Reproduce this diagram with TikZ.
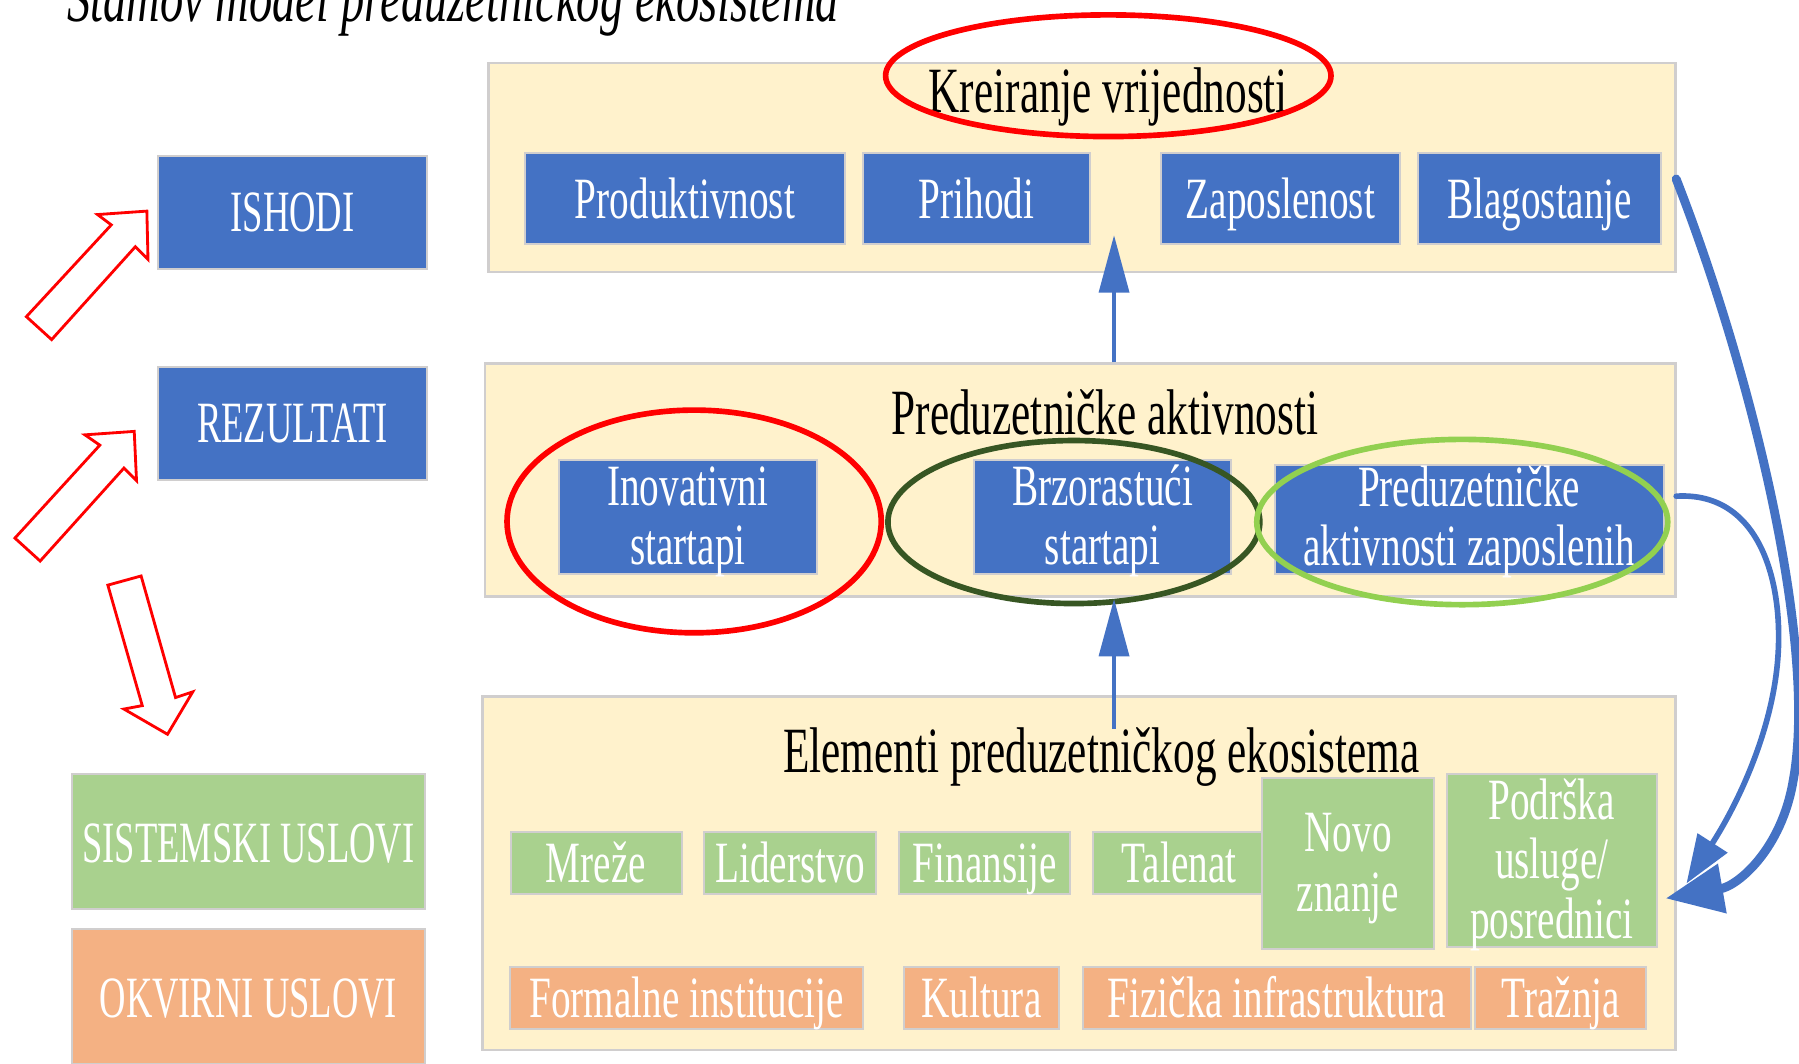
\documentclass[tikz,border=0pt]{standalone}
\usepackage{fontspec}
\setmainfont[FakeStretch=0.67]{Liberation Serif}
\newfontfamily\capsfont[FakeStretch=0.625]{Liberation Serif}
\usetikzlibrary{positioning,arrows.meta}
\definecolor{boxblue}{HTML}{4472C4}
\definecolor{boxgreen}{HTML}{A9D18E}
\definecolor{boxorange}{HTML}{F4B183}
\definecolor{panelyellow}{HTML}{FFF2CC}
\definecolor{edgegray}{HTML}{D0CECE}
\definecolor{ringdark}{HTML}{375623}
\definecolor{ringlight}{HTML}{92D050}
% multi-line label, moved down a little inside its box
\newcommand\lowtext[2]{\raisebox{-#1}[0pt][0pt]{%
  \renewcommand\arraystretch{0.983}%
  \begin{tabular}{@{}c@{}}#2\end{tabular}}}

\begin{document}
\begin{tikzpicture}
    [x=0.01cm, y=-0.01cm, node distance=0.18cm,
      every node/.style={align=center, inner sep=0pt,
      font=\fontsize{14.5}{15}\selectfont},
      panel/.style={rectangle, fill=panelyellow, draw=edgegray, line width=0.6pt},
      ptitle/.style={anchor=base, font=\fontsize{16}{17}\selectfont},
      bx/.style={rectangle, draw=edgegray, line width=0.5pt, text=white},
      oneline/.style={text height=0.44cm, text depth=0.1cm},
      bluebox/.style={bx, fill=boxblue},
      greenbox/.style={bx, fill=boxgreen},
      orangebox/.style={bx, fill=boxorange},
      capsbox/.style={font=\capsfont\fontsize{14.5}{15}\selectfont},
      ring/.style={line width=1.4pt},
      hollow/.style={draw=red, line width=0.7pt, fill=white, line join=miter},
      uparrow/.style={draw=boxblue, line width=1pt,
        -{Triangle[length=0.5cm, width=0.26cm]}},
      backarrow/.style={draw=boxblue, line cap=round}]

    \useasboundingbox (0,0) rectangle (1568,927);

    \node (title) [anchor=base west, font=\itshape\fontsize{17.2}{18}\selectfont]
      at (58,19) {Stamov model preduzetničkog ekosistema};

    % left side
    \node (ishodi) [bluebox, capsbox, oneline, minimum width=2.34cm, minimum height=0.98cm]
      at (255,185) {ISHODI};
    \node (rezultati) [bluebox, capsbox, oneline, minimum width=2.34cm, minimum height=0.98cm]
      at (255,369) {REZULTATI};
    \node (sistemski) [greenbox, capsbox, minimum width=3.07cm, minimum height=1.17cm,
      text height=0.47cm, text depth=0.1cm] at (216.5,733.5) {SISTEMSKI USLOVI};
    \node (okvirni) [orangebox, capsbox, minimum width=3.07cm, minimum height=1.17cm,
      text height=0.47cm, text depth=0.1cm] at (216.5,868.5) {OKVIRNI USLOVI};

    \draw[hollow] (23,276) -- (97,196) -- (85,187) -- (128,184) -- (129,226)
      -- (118,215) -- (45,296) -- cycle;
    \draw[hollow] (13,469) -- (87,388) -- (74,379) -- (117,376) -- (119,419)
      -- (108,408) -- (35,489) -- cycle;
    \draw[hollow] (94,510) -- (123,502) -- (153,608) -- (168,603) -- (146,640)
      -- (108,618) -- (124,615) -- cycle;

    % panels
    \node (toppanel) [panel, minimum width=10.34cm, minimum height=1.82cm] at (943,146) {};
    \node (midpanel) [panel, minimum width=10.37cm, minimum height=2.03cm] at (941.5,418.5) {};
    \node (botpanel) [panel, minimum width=10.39cm, minimum height=3.08cm] at (940.5,761) {};

    % value creation
    \node (kreiranje) [ptitle] at (966,98) {Kreiranje vrijednosti};
    \node (produkt) [bluebox, oneline, minimum width=2.78cm, minimum height=0.8cm] at (597,173) {Produktivnost};
    \node (prihodi) [bluebox, oneline, minimum width=1.98cm, minimum height=0.8cm] at (851,173) {Prihodi};
    \node (zaposl) [bluebox, oneline, minimum width=2.08cm, minimum height=0.8cm] at (1116,173) {Zaposlenost};
    \node (blago) [bluebox, oneline, minimum width=2.12cm, minimum height=0.8cm] at (1342,173) {Blagostanje};

    % activities
    \node (aktivnosti) [ptitle] at (963,379) {Preduzetničke aktivnosti};
    \node (inov) [bluebox, minimum width=2.25cm, minimum height=0.99cm] at (599.5,450.5)
      {\lowtext{0.18cm}{Inovativni\\startapi}};
    \node (brzo) [bluebox, minimum width=2.24cm, minimum height=0.99cm] at (961,450.5)
      {\lowtext{0.18cm}{Brzorastući\\startapi}};
    \node (zapo) [bluebox, minimum width=3.39cm, minimum height=0.95cm] at (1280.5,452.5)
      {\lowtext{0.17cm}{Preduzetničke\\aktivnosti zaposlenih}};

    % elements
    \node (elementi) [ptitle] at (960,673) {Elementi preduzetničkog ekosistema};
    \node (mreze) [greenbox, oneline, minimum width=1.49cm, minimum height=0.54cm] at (519.5,752) {Mreže};
    \node (lider) [greenbox, oneline, minimum width=1.5cm, minimum height=0.54cm, right=of mreze] {Liderstvo};
    \node (finan) [greenbox, oneline, minimum width=1.49cm, minimum height=0.54cm, right=of lider] {Finansije};
    \node (talenat) [greenbox, oneline, minimum width=1.5cm, minimum height=0.54cm, right=of finan] {Talenat};
    \node (novo) [greenbox, minimum width=1.5cm, minimum height=1.49cm] at (1175,752.5)
      {\lowtext{0.18cm}{Novo\\znanje}};
    \node (podr) [greenbox, minimum width=1.83cm, minimum height=1.5cm] at (1352.5,750)
      {\lowtext{0.18cm}{Podrška\\usluge/\\posrednici}};
    \node (formal) [orangebox, oneline, minimum width=3.07cm, minimum height=0.5cm] at (598.5,870)
      {Formalne institucije};
    \node (kultura) [orangebox, oneline, minimum width=1.35cm, minimum height=0.5cm] at (855.5,870) {Kultura};
    \node (fizicka) [orangebox, oneline, minimum width=3.38cm, minimum height=0.5cm] at (1113,870)
      {Fizička infrastruktura};
    \node (traznja) [orangebox, oneline, minimum width=1.49cm, minimum height=0.5cm] at (1360.5,870) {Tražnja};

    % rings
    \draw[ring, red] (966,66) ellipse [x radius=1.94cm, y radius=0.53cm];
    \draw[ring, red] (605,454.5) ellipse [x radius=1.63cm, y radius=0.97cm];
    \draw[ring, ringdark] (936,455) ellipse [x radius=1.62cm, y radius=0.71cm];
    \draw[ring, ringlight] (1274.5,455) ellipse [x radius=1.79cm, y radius=0.72cm];

    % arrows between levels
    \coordinate (tipA) at (971,205);
    \coordinate (tipB) at (971,522);
    \coordinate (tailB) at (971,635);
    \draw[uparrow] (midpanel.north -| tipA) -- (tipA);
    \draw[uparrow] (tailB) -- (tipB);

    % feedback loops
    \draw[backarrow, line width=2.2pt, -{Triangle[length=0.5cm, width=0.42cm]}]
      ([xshift=0.12cm, yshift=0.17cm]blago.east)
      .. controls (1525,320) and (1585,560) .. (1563,680)
      .. controls (1553,740) and (1515,772) .. ([xshift=0.07cm, yshift=-0.33cm]podr.east);
    \draw[backarrow, line width=1.4pt, -{Triangle[length=0.42cm, width=0.3cm]}]
      ([xshift=0.1cm, yshift=0.2cm]zapo.east)
      .. controls (1535,428) and (1556,510) .. (1549,580)
      .. controls (1543,640) and (1515,700) .. ([xshift=0.25cm, yshift=-0.2cm]podr.east);
  \end{tikzpicture}
\end{document}
